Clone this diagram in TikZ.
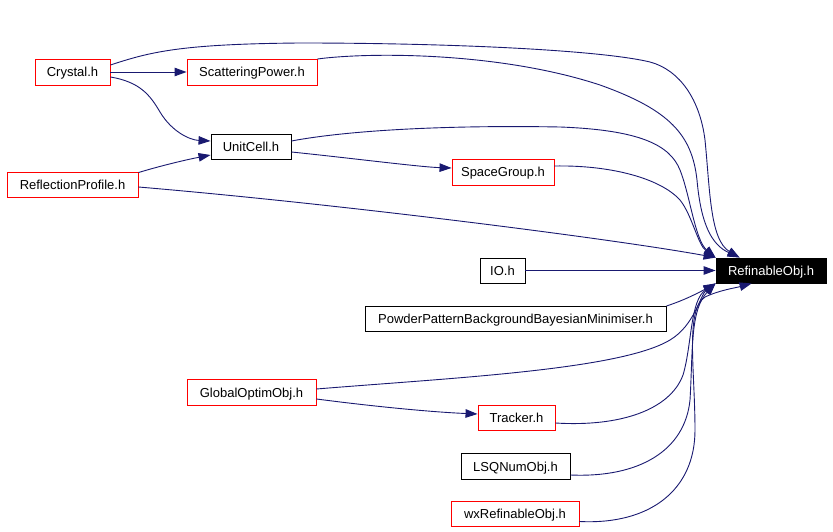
\documentclass[tikz,border=0pt]{standalone}
\usepackage{fontspec}
\setmainfont{Liberation Sans}
\usetikzlibrary{arrows.meta}
\definecolor{edgeblue}{HTML}{191970}
\tikzset{
  box/.style={draw=black, line width=0.9pt, rectangle, inner sep=0pt, text height=10pt, text depth=0pt, font=\fontsize{13}{15}\selectfont},
  redbox/.style={box, draw=red},
  blackfill/.style={box, fill=black, text=white},
  edge/.style={draw=edgeblue, line width=0.9pt, -{Triangle[length=12pt,width=8.5pt]}},
}
\begin{document}
\begin{tikzpicture}[x=1pt,y=-1pt]
\useasboundingbox (0,0) rectangle (833,532);
% nodes
\node[redbox, minimum width=75pt, minimum height=26pt] (crystal) at (72.5,72) {Crystal.h};
\node[redbox, minimum width=130pt, minimum height=26pt] (scat) at (252,72) {ScatteringPower.h};
\node[box, minimum width=80pt, minimum height=25pt] (unit) at (251,146.5) {UnitCell.h};
\node[redbox, minimum width=131pt, minimum height=25pt] (refl) at (72.5,184.5) {ReflectionProfile.h};
\node[redbox, minimum width=102pt, minimum height=26pt] (space) at (503,172) {SpaceGroup.h};
\node[box, minimum width=45pt, minimum height=25pt] (io) at (502.5,270.5) {IO.h};
\node[blackfill, minimum width=110pt, minimum height=25pt] (refobj) at (771,270.5) {RefinableObj.h};
\node[box, minimum width=301pt, minimum height=25pt] (powder) at (515.5,318.5) {PowderPatternBackgroundBayesianMinimiser.h};
\node[redbox, minimum width=129pt, minimum height=26pt] (global) at (251.5,392) {GlobalOptimObj.h};
\node[redbox, minimum width=77pt, minimum height=25pt] (tracker) at (516.5,417.5) {Tracker.h};
\node[box, minimum width=109pt, minimum height=26pt] (lsq) at (515.5,466) {LSQNumObj.h};
\node[redbox, minimum width=128pt, minimum height=25pt] (wx) at (515,513.5) {wxRefinableObj.h};
% target anchors on RefinableObj.h
\coordinate (tTL) at (refobj.north west);
\coordinate (tTR) at ([xshift=24pt]refobj.north west);
\coordinate (tBL) at (refobj.south west);
\coordinate (tBR) at ([xshift=36pt]refobj.south west);
% edges
\draw[edge] (crystal.east) -- (scat.west);
\draw[edge] ([yshift=-5pt]crystal.east) .. controls (140,82) and (150,95) .. (160,112) .. controls (172,132) and (190,140) .. ([yshift=5.5pt]unit.west);
\draw[edge] ([yshift=-1pt]refl.north east) .. controls (160,166) and (185,160) .. ([yshift=-8.5pt]unit.west);
\draw[edge] ([yshift=-2.5pt]refl.east) .. controls (350,205) and (620,240) .. (tTL);
\draw[edge] ([yshift=5.5pt]unit.east) .. controls (350,130) and (450,125) .. (560,127) .. controls (640,130) and (670,145) .. (680,170) .. controls (690,195) and (695,240) .. (tTL);
\draw[edge] ([yshift=-5.5pt]unit.east) .. controls (350,158) and (420,167) .. ([yshift=4pt]space.west);
\draw[edge] ([yshift=6pt]space.east) .. controls (610,165) and (660,178) .. (680,200) .. controls (692,215) and (698,245) .. (tTL);
\draw[edge] ([yshift=13pt]scat.east) .. controls (370,52) and (500,52) .. (600,85) .. controls (670,110) and (692,135) .. (697,180) .. controls (701,225) and (712,245) .. (tTR);
\draw[edge] ([yshift=7pt]crystal.east) .. controls (150,52) and (180,44) .. (300,43) .. controls (450,43) and (600,50) .. (650,62) .. controls (680,70) and (700,100) .. (705,140) .. controls (710,190) and (710,240) .. (tTR);
\draw[edge] (io.east) -- (refobj.west);
\draw[edge] ([yshift=12.5pt]powder.east) .. controls (685,300) and (700,292) .. (tBL);
\draw[edge] ([yshift=3pt]global.east) .. controls (450,378) and (620,370) .. (670,340) .. controls (695,325) and (700,295) .. (tBL);
\draw[edge] ([yshift=-7pt]global.east) .. controls (370,406) and (430,412) .. ([yshift=3.5pt]tracker.west);
\draw[edge] ([yshift=-5.5pt]tracker.east) .. controls (620,427) and (670,410) .. (683,375) .. controls (692,345) and (690,300) .. (tBL);
\draw[edge] ([yshift=-9pt]lsq.east) .. controls (640,478) and (685,450) .. (690,400) .. controls (693,350) and (690,310) .. (tBL);
\draw[edge] ([yshift=-8pt]wx.east) .. controls (650,525) and (695,490) .. (695,430) .. controls (695,370) and (685,310) .. (705,297) .. controls (720,290) and (735,288) .. (tBR);
\end{tikzpicture}
\end{document}
